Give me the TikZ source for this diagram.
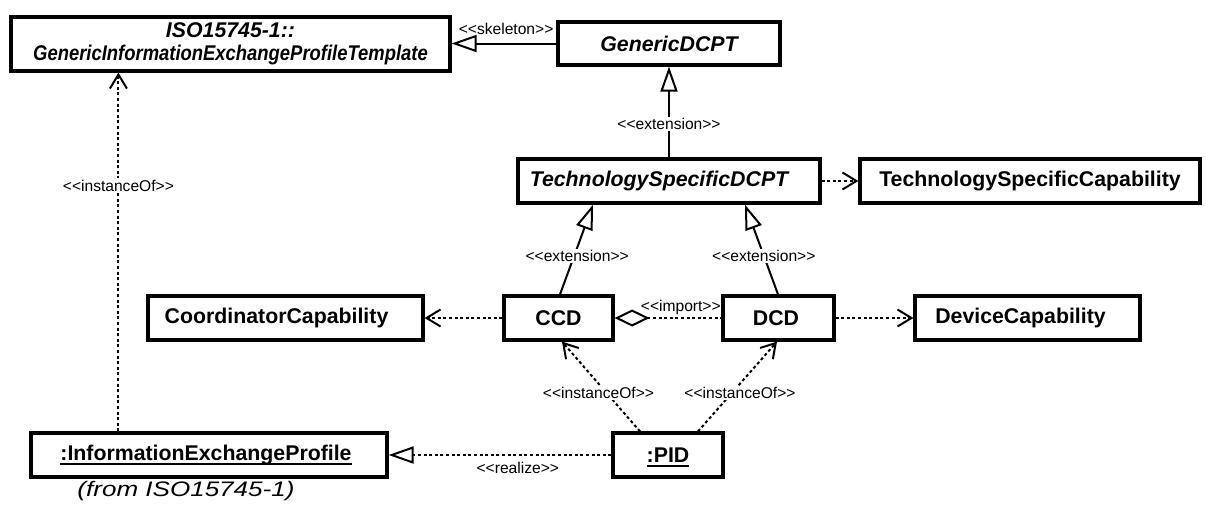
\documentclass[tikz,border=0pt]{standalone}
\usepackage{fontspec}
\usepackage{graphicx}
\setmainfont{Liberation Sans}
\usetikzlibrary{arrows.meta,calc}

% stereotype brackets, kept apart so they are not joined into guillemets
\newcommand\stereo[1]{<\kern0pt<#1>\kern0pt>}
% object name with a heavy underline that does not change the box height
\newcommand\objname[1]{\setbox0=\hbox{#1}\copy0\llap{\smash{\rule[-5pt]{\wd0}{2.2pt}}}}

\tikzset{
  cls/.style={draw, line width=3.2pt, inner sep=0pt, minimum height=44pt,
    font=\fontsize{21.3}{23}\selectfont\bfseries, align=center},
  abstractcls/.style={cls, font=\fontsize{21.3}{22.5}\selectfont\bfseries\itshape},
  conn/.style={line width=2pt},
  dep/.style={conn, dash pattern=on 3pt off 2.6pt},
  gen/.style={-{Triangle[open, length=25pt, width=17pt, line width=2pt]}},
  dir/.style={-{Straight Barb[length=14pt, width=17pt, line width=2pt]}},
  agg/.style={{Diamond[open, length=35pt, width=17pt, line width=2pt]}-},
  stereotype/.style={font=\fontsize{15.6}{18}\selectfont, inner sep=1.5pt},
  onwire/.style={stereotype, fill=white}
}

\begin{document}
\begin{tikzpicture}[x=1pt, y=-1pt]
  \useasboundingbox (0,0) rectangle (1206,506);

  % classes and objects
  \node[abstractcls, minimum width=439pt, minimum height=54pt] (iso) at (230.5,44)
    {ISO15745-1::\\\scalebox{0.865}[1]{GenericInformationExchangeProfileTemplate}};
  \node[abstractcls, minimum width=222pt, minimum height=43pt] (gdcpt) at (669,43.5) {GenericDCPT};
  \node[abstractcls, minimum width=302pt] (tsdcpt) at (669,181) {\hspace*{-20pt}TechnologySpecificDCPT};
  \node[cls, minimum width=340pt] (tscap) at (1030,181) {TechnologySpecificCapability};
  \node[cls, minimum width=275pt] (coordcap) at (285.5,318) {\hspace*{-18pt}CoordinatorCapability};
  \node[cls, minimum width=109pt] (ccd) at (558.5,318) {CCD};
  \node[cls, minimum width=111pt] (dcd) at (778.5,318) {\hspace*{-5pt}DCD};
  \node[cls, minimum width=225pt] (devcap) at (1027.5,318) {\hspace*{-14pt}DeviceCapability};
  \node[cls, minimum width=356pt] (iep) at (209,455) {\objname{:InformationExchangeProfile}\hspace*{6pt}};
  \node[cls, minimum width=110pt] (pid) at (668,455) {\objname{:PID}};
  \node[font=\fontsize{21}{23}\selectfont\itshape, anchor=center] (from) at (186,491)
    {\scalebox{1.24}[1]{(from ISO15745-1)}};

  % generalisations
  \draw[conn, gen] (gdcpt.west) -- (gdcpt.west -| iso.east)
    node[pos=0.48, above=6pt, stereotype] (lskel) {\stereo{skeleton}};
  \draw[conn, gen] (tsdcpt.north) -- (gdcpt.south)
    node[pos=0.37, onwire] (lext) {\stereo{extension}};
  \draw[conn, gen] ($(ccd.north)+(1.5,0)$) -- ($(tsdcpt.south)+(-76,0)$)
    node[pos=0.43, onwire, xshift=3pt] (lextc) {\stereo{extension}};
  \draw[conn, gen] ($(dcd.north)+(-0.5,0)$) -- ($(tsdcpt.south)+(76,0)$)
    node[pos=0.43, onwire] (lextd) {\stereo{extension}};

  % dependencies
  \draw[dep, dir] (tsdcpt.east) -- (tscap.west);
  \draw[dep, dir] (ccd.west) -- (coordcap.east);
  \draw[dep, dir] (dcd.east) -- (devcap.west);
  \draw[dep, agg] (ccd.east) -- (dcd.west)
    node[pos=0.62, above=1pt, stereotype] (limp) {\stereo{import}};

  % instantiation
  \draw[dep, dir] ($(iep.north west)+(89,0)$) -- ($(iso.south west)+(109,0)$)
    node[pos=0.685, onwire] (linst) {\stereo{instanceOf}};
  \draw[dep, dir] ($(pid.north)+(-28,0)$) -- ($(ccd.south)+(3.5,0)$)
    node[pos=0.43, onwire, xshift=-8pt] (linstc) {\stereo{instanceOf}};
  \draw[dep, dir] ($(pid.north)+(30,0)$) -- ($(dcd.south)+(-1.5,0)$)
    node[pos=0.43, onwire, xshift=8pt] (linstd) {\stereo{instanceOf}};

  % realisation
  \draw[dep, gen] (pid.west) -- (iep.east)
    node[pos=0.42, below=4.5pt, stereotype] (lreal) {\stereo{realize}};
\end{tikzpicture}
\end{document}
